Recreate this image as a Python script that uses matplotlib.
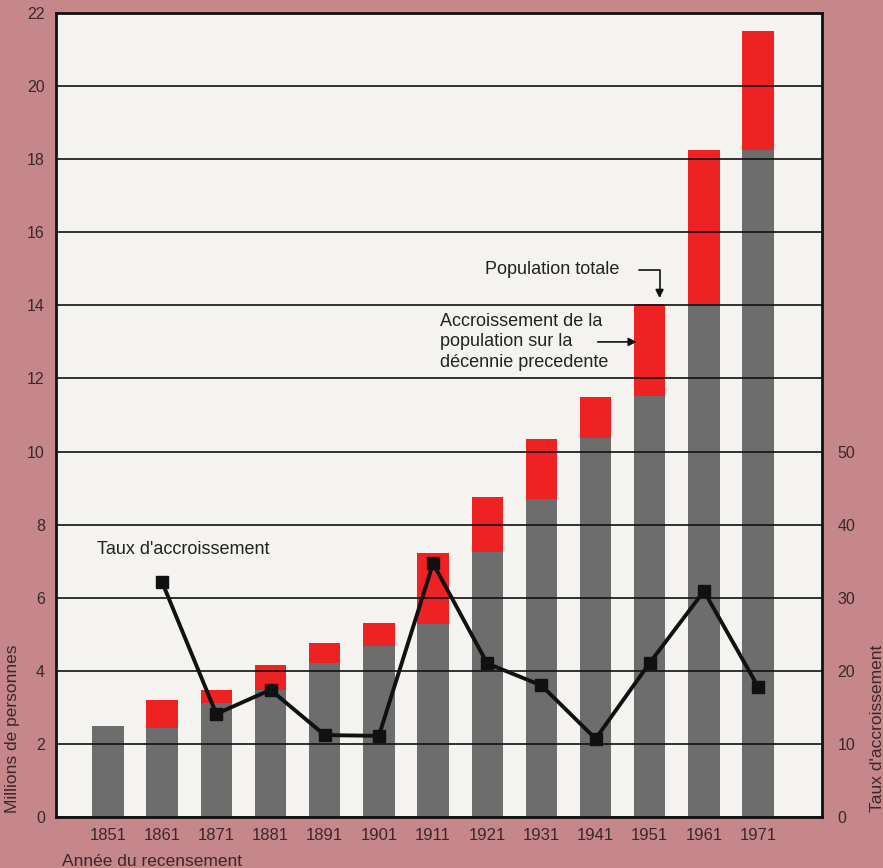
import matplotlib
matplotlib.use("Agg")
import matplotlib.pyplot as plt
import numpy as np

plt.rcParams['font.family'] = ['Liberation Sans', 'DejaVu Sans']

# recensements (millions de personnes)
annees = ["1851", "1861", "1871", "1881", "1891", "1901", "1911",
          "1921", "1931", "1941", "1951", "1961", "1971"]
pop_precedente = [2.5, 2.44, 3.13, 3.48, 4.22, 4.69, 5.27,
                  7.25, 8.7, 10.37, 11.52, 14.05, 18.24]
pop_totale = [2.5, 3.2, 3.48, 4.15, 4.75, 5.3, 7.22,
              8.75, 10.35, 11.5, 14.05, 18.24, 21.5]
# taux d'accroissement (%), pas de valeur pour 1851
taux = [np.nan, 32.1, 14.1, 17.4, 11.2, 11.1, 34.7,
        21.0, 18.0, 10.7, 21.1, 30.9, 17.8]

fond = "#c6878b"
gris = "#6d6d6d"
rouge = "#ee2222"
texte = "#3a2828"

x = np.arange(len(annees))
accroissement = np.array(pop_totale) - np.array(pop_precedente)

fig = plt.figure(figsize=(8.83, 8.68), dpi=100, facecolor=fond)
ax = fig.add_axes([0.0634, 0.0588, 0.8676, 0.9262])
ax.set_facecolor("#f4f3f0")

ax.bar(x, pop_precedente, width=0.58, color=gris, zorder=1)
ax.bar(x, accroissement, bottom=pop_precedente, width=0.58, color=rouge, zorder=1)

ax.set_xlim(-0.96, 13.18)
ax.set_ylim(0, 22)
ax.set_yticks(range(0, 23, 2))
ax.set_xticks(x)
ax.set_xticklabels(annees)
ax.grid(axis="y", color="#111111", linewidth=1.2)
ax.set_axisbelow(False)
ax.tick_params(length=0, labelsize=11.5, colors=texte)
ax.tick_params(axis="x", labelsize=12, pad=8)
ax.tick_params(axis="y", pad=8)
for s in ax.spines.values():
    s.set_linewidth(2)
    s.set_color("#111111")

ax.set_ylabel("Millions de personnes", fontsize=12.5, color=texte)
ax.yaxis.set_label_coords(-0.047, 0.11)
ax.set_xlabel("Année du recensement", fontsize=12.5, color=texte)
ax.xaxis.set_label_coords(0.008, -0.046)
ax.xaxis.label.set_horizontalalignment("left")

ax2 = ax.twinx()
ax2.set_ylim(0, 110)
ax2.set_yticks(range(0, 51, 10))
ax2.tick_params(length=0, labelsize=11.5, colors=texte, pad=11)
for s in ax2.spines.values():
    s.set_visible(False)
ax2.plot(x, taux, color="#111111", linewidth=2.8, marker="s", markersize=9, zorder=5)
ax2.set_ylabel("Taux d'accroissement", fontsize=12.5, color=texte)
ax2.yaxis.set_label_coords(1.062, 0.11)

# annotations
ax.text(-0.2, 7.33, "Taux d'accroissement", fontsize=13, color="#222222", va="center")
ax.annotate("", xy=(10.18, 14.2), xytext=(9.8, 14.98),
            arrowprops=dict(arrowstyle="-|>", color="#111111", lw=1.2,
                            connectionstyle="angle,angleA=0,angleB=90,rad=0",
                            shrinkA=0, shrinkB=0, mutation_scale=12))
ax.text(6.95, 14.98, "Population totale", fontsize=13, color="#222222", va="center")
ax.text(6.12, 13.0, "Accroissement de la\npopulation sur la\ndécennie precedente",
        fontsize=13, color="#222222", va="center", linespacing=1.3)
ax.annotate("", xy=(9.76, 13.0), xytext=(9.04, 13.0),
            arrowprops=dict(arrowstyle="-|>", color="#111111", lw=1.2,
                            shrinkA=0, shrinkB=0, mutation_scale=12))

fig.savefig("out.png", dpi=100, facecolor=fond)
